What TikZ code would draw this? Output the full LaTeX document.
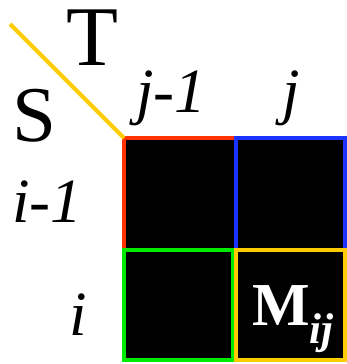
\documentclass[tikz,border=0pt]{standalone}
\usepackage{fontspec}
\setmainfont{Liberation Serif}
\usetikzlibrary{positioning}

\definecolor{cellred}{RGB}{255,51,0}
\definecolor{cellblue}{RGB}{26,51,255}
\definecolor{cellgreen}{RGB}{0,235,0}
\definecolor{cellgold}{RGB}{255,204,0}

\begin{document}
\begin{tikzpicture}[
    x=1pt, y=-1pt,
    % ── Cell and label styles ──
    cell/.style={
        rectangle, fill=black, line width=4pt,
        inner sep=0pt, outer sep=0pt
    },
    seqlbl/.style={anchor=base, inner sep=0pt, font=\fontsize{85}{85}\selectfont},
    idxlbl/.style={anchor=base, inner sep=0pt, font=\fontsize{63}{63}\selectfont\itshape},
]
\useasboundingbox (0,0) rectangle (347,364);

% ── Sequence names ──
\node (T) [seqlbl, text height=56pt] at (92,65) {T};
\node (S) [seqlbl, font=\fontsize{79}{79}\selectfont] at (34,141) {S};

% ── Diagonal ──
\coordinate (diag) at (10,24);

% ── Index labels ──
\node (jm) [idxlbl] at (171,112) {j-1};
\node (jj) [idxlbl] at (291,112) {j};
\node (im) [idxlbl] at (47,222) {i-1};
\node (ii) [idxlbl] at (78,335) {i};

% ── Cells (drawn in this order so the borders overlap) ──
\node (c11) [cell, draw=cellred, minimum width=112pt, minimum height=112pt] at (180,194) {};
\draw [cellgold, line width=4pt] (diag) -- (c11.north west);
\node (c12) [cell, draw=cellblue, minimum width=109pt, minimum height=112pt] at (290.5,194) {};
\node (c21) [cell, draw=cellgreen, minimum width=109pt, minimum height=110pt] at (178.5,305) {};
\node (c22) [cell, draw=cellgold, minimum width=109pt, minimum height=110pt] at (290.5,305) {};

% ── Cell value ──
\node (M) [anchor=base, inner sep=0pt, text=white, font=\fontsize{61}{61}\selectfont\bfseries]
    at (293,325) {M\raisebox{-18pt}{\fontsize{43}{43}\selectfont\itshape ij}};

\end{tikzpicture}
\end{document}
